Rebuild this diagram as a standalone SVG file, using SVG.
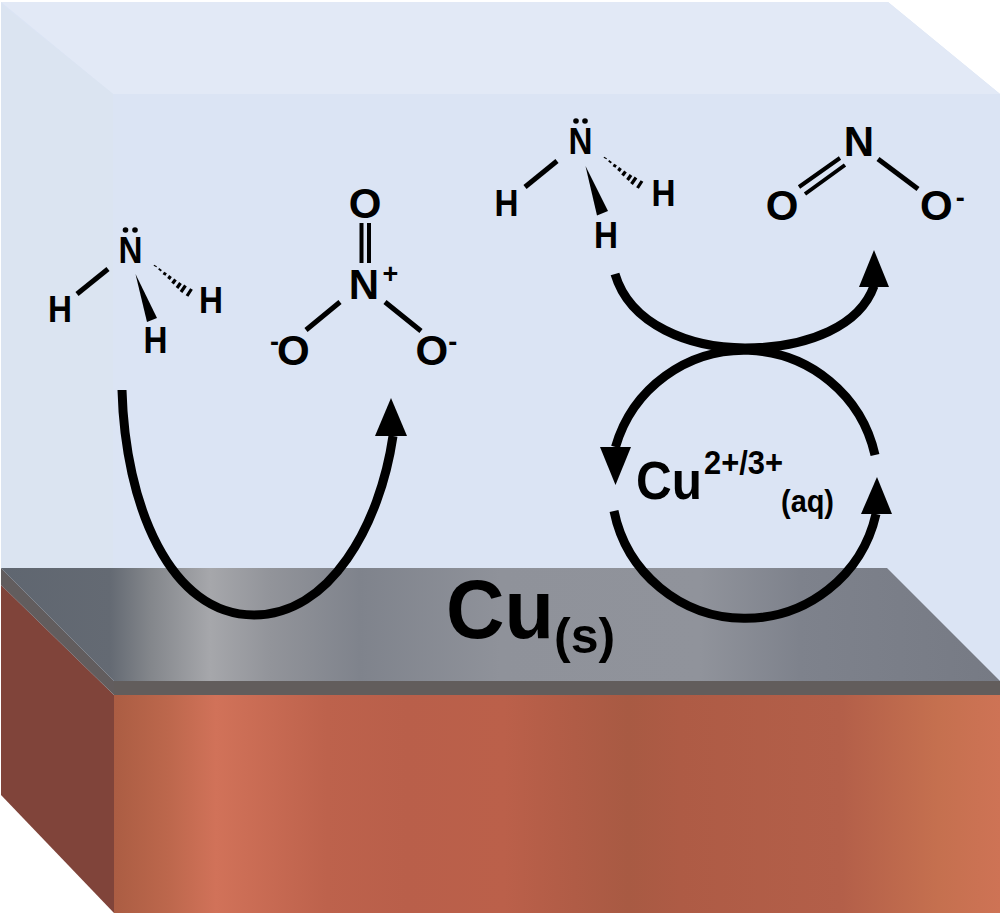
<svg xmlns="http://www.w3.org/2000/svg" width="1000" height="913" viewBox="0 0 1000 913">
<style>
text{font-family:"Liberation Sans",Arial,sans-serif;font-weight:bold;fill:#000}
.m{text-anchor:middle}
.s{font-size:36px}
.l{font-size:42px}
.c{font-size:27px}
.b{stroke:#000;stroke-width:5;fill:none}
.d{stroke:#000;stroke-width:4;fill:none}
.h{stroke:#000;fill:none;stroke-width:3.200}
.a{stroke:#000;stroke-width:9;fill:none}
</style>
<defs>
<linearGradient id="grey" gradientUnits="userSpaceOnUse" x1="0" y1="0" x2="1000" y2="0">
<stop offset="0" stop-color="#5f6670"/><stop offset=".11" stop-color="#646a73"/><stop offset=".15" stop-color="#83868b"/><stop offset=".21" stop-color="#a6a7ab"/><stop offset=".27" stop-color="#92949a"/><stop offset=".36" stop-color="#7f838c"/><stop offset=".5" stop-color="#8f929a"/><stop offset=".7" stop-color="#90939b"/><stop offset=".8" stop-color="#7e828c"/><stop offset="1" stop-color="#767a84"/>
</linearGradient>
<linearGradient id="copper" gradientUnits="userSpaceOnUse" x1="114" y1="0" x2="1000" y2="0">
<stop offset="0" stop-color="#ab5d43"/><stop offset=".06" stop-color="#bc674c"/><stop offset=".115" stop-color="#d17259"/><stop offset=".24" stop-color="#bd624c"/><stop offset=".33" stop-color="#b95f4a"/><stop offset=".44" stop-color="#bb604a"/><stop offset=".52" stop-color="#b05c46"/><stop offset=".58" stop-color="#a85a43"/><stop offset=".64" stop-color="#ae5b45"/><stop offset=".82" stop-color="#b35f49"/><stop offset=".93" stop-color="#c5704f"/><stop offset="1" stop-color="#ce7355"/>
</linearGradient>
</defs>
<rect width="1000" height="913" fill="#fff"/>
<g id="tank">
<path d="M1 2H888L1000 94V681H1V2Z" fill="#dbe4f4"/>
<path d="M1 2H888L1000 94H113Z" fill="#e2e9f6"/>
<path d="M1 4L113 94V681L1 568Z" fill="#dbe4f1"/>
</g>
<g id="copper-block">
<path d="M1 585L114 695V913L1 795Z" fill="#80443a"/>
<rect x="114" y="695" width="886" height="218" fill="url(#copper)"/>
<path d="M1 568L114 681V695L1 585Z" fill="#625d5e"/>
<rect x="114" y="681" width="886" height="14" fill="#625d5c"/>
<path d="M1 568H887L1000 681H114Z" fill="url(#grey)"/>
</g>
<g id="connectors">
<path class="a" d="M122 390C125 505 170 615 254 615C330 615 380 525 393 436"/>
<path d="M391 398L375 436H407Z"/>
<path class="a" d="M615 274C630 325 690 348 745 348C810 348 860 325 874 286"/>
<path d="M874 250L859 287H889Z"/>
<path class="a" d="M875 455A134 134 0 0 0 615.500 447"/>
<path d="M615.500 485L600 447H631Z"/>
<path class="a" d="M614 511A134 134 0 0 0 876 514"/>
<path d="M877 477L861 514H892Z"/>
</g>
<g id="ammonia-left">
<text class="s m" x="130.500" y="263" textLength="24" lengthAdjust="spacingAndGlyphs">N</text>
<circle cx="125.500" cy="230" r="2.800"/><circle cx="135" cy="230" r="2.800"/>
<text class="s m" x="60" y="322" textLength="24" lengthAdjust="spacingAndGlyphs">H</text>
<text class="s m" x="211" y="313" textLength="24" lengthAdjust="spacingAndGlyphs">H</text>
<text class="s m" x="155.500" y="353" textLength="24" lengthAdjust="spacingAndGlyphs">H</text>
<path class="b" d="M108 269L77 294"/>
<path d="M135.500 274L147 322L157 318Z"/>
<path class="h" d="M155.500 265.500L155 266.500M160.500 269L159.500 270.500M165.500 272.500L164 275M170.500 276L168.500 279M175.500 279.500L172.500 283.500M180.500 283L177 288M185.500 285.500L181 292M191.500 289L187 296"/>
</g>
<g id="nitrate">
<text class="l m" x="365" y="218">O</text>
<path class="d" d="M361.500 223V263M369 223V263"/>
<text class="l m" x="364" y="299">N</text>
<text class="c m" x="390.500" y="283">+</text>
<path class="b" d="M340 302L306 330M385 302L421 331"/>
<text x="270" y="351"><tspan class="c">-</tspan><tspan class="l" dx="-2" dy="14">O</tspan></text>
<text x="415.500" y="365"><tspan class="l">O</tspan><tspan class="c" dy="-14">-</tspan></text>
</g>
<g id="ammonia-right">
<text class="s m" x="580.500" y="154" textLength="24" lengthAdjust="spacingAndGlyphs">N</text>
<circle cx="576" cy="121" r="2.800"/><circle cx="585" cy="121" r="2.800"/>
<text class="s m" x="506.500" y="216" textLength="24" lengthAdjust="spacingAndGlyphs">H</text>
<text class="s m" x="663.500" y="206" textLength="24" lengthAdjust="spacingAndGlyphs">H</text>
<text class="s m" x="606" y="248" textLength="24" lengthAdjust="spacingAndGlyphs">H</text>
<path class="b" d="M557 161L525 187"/>
<path d="M585.500 166L597 215.500L608 211Z"/>
<path class="h" d="M605.500 157.500L605 158.500M610.500 161L609.500 162.500M615.500 164.500L614 167M620.500 168L618.500 171M625.500 171.500L622.500 175.500M631 175L627.500 180M636 177.500L631.500 184M642 181L637.500 188"/>
</g>
<g id="nitrite">
<text class="l m" x="859" y="156">N</text>
<path class="d" d="M840 158L799 187M845 165L805 194"/>
<path class="b" d="M878 159L918 189"/>
<text class="l m" x="782" y="220">O</text>
<text x="920" y="220"><tspan class="l">O</tspan><tspan class="c" dx="3" dy="-13">-</tspan></text>
</g>
<g id="cu-aq">
<text x="636" y="499" font-size="54" textLength="66" lengthAdjust="spacingAndGlyphs">Cu</text>
<text x="704" y="474" font-size="34" textLength="79" lengthAdjust="spacingAndGlyphs">2+/3+</text>
<text x="781" y="512" font-size="32" textLength="53" lengthAdjust="spacingAndGlyphs">(aq)</text>
</g>
<g id="cu-s">
<text x="446" y="638" font-size="84" textLength="108" lengthAdjust="spacingAndGlyphs">Cu</text>
<text x="554" y="653" font-size="50">(s)</text>
</g>
</svg>
